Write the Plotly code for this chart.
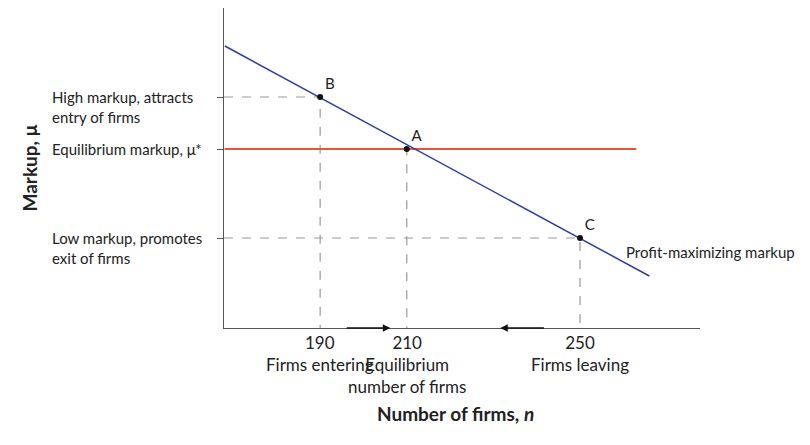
import plotly.graph_objects as go

# data
line_n = [168, 266]
line_mu = [2.82, 0.52]
eq_mu = 1.79
eq_line_n = [168, 263]
pt_labels = ["B", "A", "C"]
pt_n = [190, 210, 250]
pt_mu = [2.31, 1.79, 0.90]
x_tick_labels = ["190<br>Firms entering", "210<br>Equilibrium<br>number of firms", "250<br>Firms leaving"]
y_tick_labels = ["High markup, attracts<br>entry of firms", "Equilibrium markup, μ*", "Low markup, promotes<br>exit of firms"]

F = "Lato"
fig = go.Figure()
for n, m in zip(pt_n, pt_mu):
    fig.add_trace(go.Scatter(x=[167.8, n, n], y=[m, m, 0], mode="lines",
                             line=dict(color="#999", width=1.2, dash="dash"), showlegend=False))
fig.add_trace(go.Scatter(x=eq_line_n, y=[eq_mu, eq_mu], mode="lines",
                         line=dict(color="#e8553a", width=1.8), showlegend=False))
fig.add_trace(go.Scatter(x=line_n, y=line_mu, mode="lines",
                         line=dict(color="#2d3f9e", width=1.5), showlegend=False))
fig.add_trace(go.Scatter(x=pt_n, y=pt_mu, mode="markers+text", text=pt_labels,
                         textposition="top right", textfont=dict(family=F, size=15, color="#222"),
                         marker=dict(color="#111", size=6), showlegend=False))

ann = []
for n, t in zip(pt_n, x_tick_labels):
    ann.append(dict(x=n, y=0, xref="x", yref="y", text=t, showarrow=False, yanchor="top",
                    yshift=-2, font=dict(family=F, size=17, color="#222"), align="center"))
for m, t in zip(pt_mu, y_tick_labels):
    two = "<br>" in t
    ann.append(dict(x=(50 - 224) / 476, y=m, xref="paper", yref="y", text=t, showarrow=False,
                    xanchor="left", font=dict(family=F, size=15, color="#222"), align="left",
                    yanchor="top" if two else "middle", yshift=11 if two else 0))
ann.append(dict(x=(624 - 224) / 476, y=(320 - 244) / 320, xref="paper", yref="paper",
                text="Profit-maximizing markup", showarrow=False, xanchor="left", yanchor="middle",
                font=dict(family=F, size=15, color="#222")))
ann.append(dict(x=206.2, y=0, ax=195.8, ay=0, xref="x", yref="y", axref="x", ayref="y",
                showarrow=True, arrowhead=2, arrowwidth=1.5, arrowcolor="#111", text=""))
ann.append(dict(x=231.6, y=0, ax=242, ay=0, xref="x", yref="y", axref="x", ayref="y",
                showarrow=True, arrowhead=2, arrowwidth=1.5, arrowcolor="#111", text=""))
ann.append(dict(x=(15 - 224) / 476, y=0.5, xref="paper", yref="paper", text="<b>Markup, μ</b>",
                textangle=-90, showarrow=False, font=dict(family=F, size=19, color="#222")))
ann.append(dict(x=(455 - 224) / 476, y=(325 - 410) / 320, xref="paper", yref="paper",
                text="<b>Number of firms, <i>n</i></b>", showarrow=False, yanchor="middle",
                font=dict(family=F, size=19, color="#222")))

fig.update_layout(
    width=810, height=445, margin=dict(l=216, r=118, t=0, b=125),
    plot_bgcolor="white", paper_bgcolor="white", annotations=ann,
    xaxis=dict(range=[167.8, 277.7], showgrid=False, zeroline=False, showticklabels=False,
               showline=True, linecolor="#555", linewidth=1.2),
    yaxis=dict(range=[0, 3.2], showgrid=False, zeroline=False, showticklabels=False,
               showline=True, linecolor="#555", linewidth=1.2,
               ticks="outside", tickvals=pt_mu, ticklen=6, tickcolor="#555"),
)
fig.write_html("out.html")
